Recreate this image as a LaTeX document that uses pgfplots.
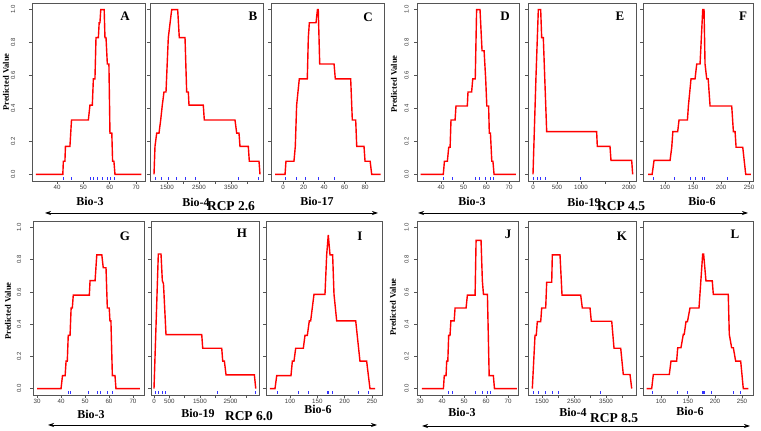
\documentclass[border=0pt]{standalone}
\usepackage{fontspec}
\setmainfont{Liberation Serif}
\newfontfamily\tickfont{Liberation Sans}
\usepackage{pgfplots}
\pgfplotsset{compat=1.18}
\usetikzlibrary{arrows.meta}

\definecolor{boxgray}{RGB}{85,85,85}
\definecolor{ticktext}{RGB}{60,60,60}

\pgfplotsset{
  panel/.style={
    scale only axis, anchor=south west,
    ymin=-0.04, ymax=1.04,
    ytick={0,0.2,0.4,0.6,0.8,1},
    yticklabels={},
    axis line style={boxgray, line width=0.9pt},
    tick pos=left, tick align=outside,
    major tick length=3pt,
    every tick/.style={boxgray, line width=0.6pt},
    xticklabel style={font=\tickfont\fontsize{6.2}{6.2}\selectfont, text=ticktext, inner sep=1pt},
    yticklabel style={font=\tickfont\fontsize{6}{6}\selectfont, text=ticktext, rotate=90, anchor=south, inner sep=1pt},
  },
  ylabs/.style={yticklabels={0.0,0.2,0.4,0.6,0.8,1.0}},
  curve/.style={red, line width=1.4pt},
  rug/.style={blue!80, only marks, mark=|, mark size=1.2pt, line width=0.5pt},
}

\tikzset{
  panlet/.style={font=\bfseries\fontsize{13}{13}\selectfont},
  varlab/.style={font=\bfseries\fontsize{12}{12}\selectfont},
  rcplab/.style={font=\bfseries\fontsize{13.5}{13.5}\selectfont},
  ylab/.style={font=\bfseries\fontsize{8.5}{8.5}\selectfont, rotate=90},
  span/.style={{Stealth[length=6pt,width=4pt]}-{Stealth[length=6pt,width=4pt]}, line width=0.7pt},
}

\begin{document}
\begin{tikzpicture}
\path[use as bounding box] (0pt,0pt) rectangle (761pt,431pt);

% ---------------- RCP 2.6 ----------------
\begin{axis}[panel, ylabs, yticklabel shift=12.5pt, at={(32pt,250pt)}, width=113pt, height=178pt,
  xmin=30.5, xmax=73.4, xtick={40,50,60,70}, xticklabels={40,50,60,70}]
\addplot[curve] coordinates {(32,0)(42.2,0)(42.4,0.08)(43,0.08)(43.2,0.17)(44.9,0.17)(45.5,0.33)(51.9,0.33)(52.5,0.42)(53.4,0.42)(53.8,0.58)(54.4,0.58)(54.8,0.83)(55.7,0.83)(56,0.92)(56.3,0.92)(56.6,1)(57.9,1)(58.2,0.83)(58.6,0.83)(59.1,0.67)(59.7,0.67)(60.1,0.25)(60.8,0.25)(61.1,0.08)(61.6,0.08)(62,0)(72,0)};
\addplot[rug] coordinates {(42.3,-0.025)(45.3,-0.025)(52.5,-0.025)(53.7,-0.025)(55.1,-0.025)(57.1,-0.025)(58.9,-0.025)(60.2,-0.025)(61.8,-0.025)};
\end{axis}

\begin{axis}[panel, at={(150pt,250pt)}, width=113pt, height=178pt,
  xmin=969, xmax=4500, xtick={1500,2000,2500,3000,3500,4000}, xticklabels={1500,,2500,,3500,}]
\addplot[curve] coordinates {(1094,0)(1125,0.17)(1178,0.25)(1250,0.25)(1303,0.33)(1353,0.42)(1406,0.5)(1469,0.5)(1541,0.83)(1647,1)(1834,1)(1884,0.83)(2063,0.83)(2115,0.5)(2166,0.5)(2188,0.42)(2634,0.42)(2666,0.33)(3625,0.33)(3678,0.25)(3750,0.25)(3781,0.17)(4041,0.17)(4072,0.08)(4375,0.08)(4406,0)};
\addplot[rug] coordinates {(1125,-0.025)(1334,-0.025)(1541,-0.025)(1803,-0.025)(2063,-0.025)(2375,-0.025)(3728,-0.025)(4353,-0.025)};
\end{axis}

\begin{axis}[panel, at={(271pt,250pt)}, width=113pt, height=178pt,
  xmin=-11.7, xmax=98.5, xtick={0,20,40,60,80}, xticklabels={0,20,40,60,80}]
\addplot[curve] coordinates {(-7.8,0)(2,0)(2.9,0.08)(10.7,0.08)(12,0.17)(13.3,0.42)(15.9,0.58)(23.7,0.58)(24.7,0.83)(25.7,0.92)(32.2,0.92)(33.6,1)(34.4,1)(35.8,0.67)(49.8,0.67)(51,0.58)(66,0.58)(67.6,0.33)(70.9,0.33)(71.9,0.17)(79,0.17)(80,0.08)(85,0.08)(86.5,0)(95.3,0)};
\addplot[rug] coordinates {(2,-0.025)(12.7,-0.025)(21.5,-0.025)(34,-0.025)(49.8,-0.025)};
\end{axis}

% ---------------- RCP 4.5 ----------------
\begin{axis}[panel, ylabs, yticklabel shift=4pt, at={(417pt,250pt)}, width=102pt, height=178pt,
  xmin=29.4, xmax=74.4, xtick={40,50,60,70}, xticklabels={40,50,60,70}]
\addplot[curve] coordinates {(31,0)(41,0)(41.5,0.08)(42.8,0.08)(43.4,0.165)(44,0.165)(44.4,0.33)(46.2,0.33)(46.6,0.415)(51.6,0.415)(51.9,0.5)(53.5,0.5)(54,0.58)(55.1,0.58)(55.7,1)(57.2,1)(58.1,0.75)(59,0.75)(59.7,0.58)(60.2,0.415)(61,0.415)(61.3,0.25)(61.8,0.25)(62.4,0.08)(62.9,0.08)(63.4,0)(73,0)};
\addplot[rug] coordinates {(41,-0.025)(45,-0.025)(55,-0.025)(56.8,-0.025)(59.4,-0.025)(61.6,-0.025)(62.9,-0.025)};
\end{axis}

\begin{axis}[panel, at={(528pt,250pt)}, width=108pt, height=178pt,
  xmin=-104, xmax=2146, xtick={0,500,1000,1500,2000}, xticklabels={0,500,1000,,2000}]
\addplot[curve] coordinates {(0,0)(62,0.59)(111,1)(160,1)(181,0.83)(215,0.83)(285,0.26)(1326,0.26)(1340,0.17)(1604,0.17)(1625,0.085)(2056,0.085)(2077,0)};
\addplot[rug] coordinates {(0,-0.025)(83,-0.025)(146,-0.025)(250,-0.025)(979,-0.025)};
\end{axis}

\begin{axis}[panel, at={(643pt,250pt)}, width=110pt, height=178pt,
  xmin=60.7, xmax=257, xtick={100,150,200,250}, xticklabels={100,150,200,250}]
\addplot[curve] coordinates {(70,0)(77,0)(80.4,0.085)(109,0.085)(112,0.165)(114,0.26)(122.6,0.26)(125,0.33)(140,0.33)(141.7,0.415)(146.4,0.58)(153.6,0.58)(156.6,0.67)(162.5,0.67)(167.3,1)(169.6,1)(171.4,0.67)(174.4,0.58)(177,0.58)(180.4,0.415)(219,0.415)(222,0.26)(225,0.26)(226.8,0.165)(238.7,0.165)(244,0)(253,0)};
\addplot[rug] coordinates {(78.6,-0.025)(116,-0.025)(145,-0.025)(154,-0.025)(166,-0.025)(170,-0.025)(211,-0.025)};
\end{axis}

% ---------------- RCP 6.0 ----------------
\begin{axis}[panel, ylabs, yticklabel shift=7.5pt, at={(33pt,36pt)}, width=111pt, height=174pt,
  xmin=28.3, xmax=74.6, xtick={30,40,50,60,70}, xticklabels={30,40,50,60,70}]
\addplot[curve] coordinates {(30,0)(40,0)(40.6,0.08)(41.7,0.08)(42.1,0.17)(42.6,0.17)(43,0.33)(43.75,0.33)(44.2,0.5)(44.7,0.5)(45.1,0.58)(51.8,0.58)(52.1,0.67)(54.2,0.67)(54.9,0.83)(57,0.83)(57.6,0.75)(58.75,0.75)(59.3,0.5)(60.1,0.5)(60.4,0.42)(60.8,0.42)(61.4,0.08)(62.5,0.08)(62.9,0)(72.9,0)};
\addplot[rug] coordinates {(43,-0.025)(43.75,-0.025)(51.25,-0.025)(55,-0.025)(56.25,-0.025)(59.2,-0.025)(61.25,-0.025)};
\end{axis}

\begin{axis}[panel, at={(151pt,36pt)}, width=108pt, height=174pt,
  xmin=-98, xmax=3431, xtick={0,500,1000,1500,2000,2500,3000}, xticklabels={0,500,,1500,,2500,}]
\addplot[curve] coordinates {(0,0)(141,0.835)(229,0.835)(272,0.67)(310,0.65)(392,0.335)(1560,0.335)(1592,0.25)(2213,0.25)(2246,0.17)(2300,0.17)(2354,0.085)(3280,0.085)(3325,0)};
\addplot[rug] coordinates {(33,-0.025)(131,-0.025)(262,-0.025)(360,-0.025)(2060,-0.025)(3300,-0.025)};
\end{axis}

\begin{axis}[panel, at={(266pt,36pt)}, width=116pt, height=174pt,
  xmin=56.1, xmax=268.3, xtick={100,150,200,250}, xticklabels={100,150,200,250}]
\addplot[curve] coordinates {(63,0)(72.6,0)(75.7,0.08)(101.8,0.08)(104.3,0.17)(107.3,0.17)(110.4,0.25)(124.4,0.25)(127.4,0.33)(131.7,0.33)(135.3,0.42)(137.8,0.42)(143.9,0.585)(164,0.585)(167.1,0.83)(170,0.954)(173.2,0.83)(178,0.83)(180.5,0.585)(185.4,0.42)(220.2,0.42)(223,0.33)(228,0.17)(240.2,0.17)(246.3,0)(255.5,0)};
\addplot[rug] coordinates {(76,-0.025)(114.6,-0.025)(133,-0.025)(167.7,-0.025)(169.5,-0.025)(176.8,-0.025)(224,-0.025)(242.7,-0.025)};
\end{axis}

% ---------------- RCP 8.5 ----------------
\begin{axis}[panel, ylabs, yticklabel shift=4pt, at={(417pt,36pt)}, width=101pt, height=174pt,
  xmin=28.6, xmax=74.5, xtick={30,40,50,60,70}, xticklabels={30,40,50,60,70}]
\addplot[curve] coordinates {(30.8,0)(40.6,0)(41,0.08)(41.8,0.08)(42.1,0.17)(42.6,0.17)(43,0.33)(43.6,0.33)(44,0.42)(45.5,0.42)(45.9,0.5)(50.9,0.5)(51.5,0.58)(55,0.58)(55.45,0.92)(57.7,0.92)(58.3,0.67)(58.8,0.585)(60.6,0.585)(61.4,0.08)(63.3,0.08)(63.8,0)(74,0)};
\addplot[rug] coordinates {(42.7,-0.025)(44.5,-0.025)(55,-0.025)(58.2,-0.025)(60.5,-0.025)(61.8,-0.025)};
\end{axis}

\begin{axis}[panel, at={(528pt,36pt)}, width=108pt, height=174pt,
  xmin=1062, xmax=4437, xtick={1500,2000,2500,3000,3500,4000}, xticklabels={1500,,2500,,3500,}]
\addplot[curve] coordinates {(1197,0)(1281,0.33)(1320,0.33)(1353,0.415)(1459,0.415)(1490,0.5)(1615,0.5)(1646,0.66)(1803,0.66)(1822,0.83)(2062,0.83)(2125,0.58)(2709,0.58)(2759,0.5)(3000,0.5)(3040,0.418)(3678,0.418)(3750,0.25)(3959,0.25)(4040,0.087)(4250,0.087)(4303,0)};
\addplot[rug] coordinates {(1219,-0.025)(1375,-0.025)(1594,-0.025)(1812,-0.025)(2000,-0.025)(3312,-0.025)};
\end{axis}

\begin{axis}[panel, at={(643pt,36pt)}, width=110pt, height=174pt,
  xmin=66.7, xmax=270.4, xtick={100,150,200,250}, xticklabels={100,150,200,250}]
\addplot[curve] coordinates {(73.5,0)(82.8,0)(85.8,0.087)(115.4,0.087)(118.5,0.17)(129,0.17)(131,0.253)(137,0.253)(141.3,0.336)(143,0.336)(146.3,0.415)(149,0.415)(153.7,0.5)(170.4,0.5)(177.2,0.834)(179,0.834)(183.3,0.668)(195,0.668)(196.9,0.585)(224.6,0.585)(226.5,0.336)(230.9,0.253)(234,0.253)(238.3,0.17)(247.6,0.17)(252.4,0)(261.7,0)};
\addplot[rug] coordinates {(83,-0.025)(131,-0.025)(148,-0.025)(176,-0.025)(178,-0.025)(181,-0.025)(194,-0.025)(233,-0.025)(246,-0.025)};
\end{axis}

% panel letters
\node[panlet] at (125pt,415pt) {A};
\node[panlet] at (253pt,415pt) {B};
\node[panlet] at (368pt,414pt) {C};
\node[panlet] at (505pt,415pt) {D};
\node[panlet] at (620pt,415pt) {E};
\node[panlet] at (743pt,415pt) {F};
\node[panlet] at (125pt,195pt) {G};
\node[panlet] at (242pt,198pt) {H};
\node[panlet] at (360pt,195pt) {I};
\node[panlet] at (508pt,197pt) {J};
\node[panlet] at (622pt,195pt) {K};
\node[panlet] at (735pt,197pt) {L};

% variable names
\node[varlab] at (90pt,230pt) {Bio-3};
\node[varlab] at (196pt,229pt) {Bio-4};
\node[varlab] at (317pt,230pt) {Bio-17};
\node[varlab] at (472pt,230pt) {Bio-3};
\node[varlab] at (584pt,229pt) {Bio-19};
\node[varlab] at (702pt,230pt) {Bio-6};
\node[varlab] at (91pt,17pt) {Bio-3};
\node[varlab] at (198pt,18pt) {Bio-19};
\node[varlab] at (318pt,22pt) {Bio-6};
\node[varlab] at (462pt,19pt) {Bio-3};
\node[varlab] at (573pt,19pt) {Bio-4};
\node[varlab] at (690pt,20pt) {Bio-6};

% y axis titles
\node[ylab] at (6pt,349pt) {Predicted Value};
\node[ylab] at (394pt,347pt) {Predicted Value};
\node[ylab] at (8pt,120pt) {Predicted Value};
\node[ylab] at (393pt,124pt) {Predicted Value};

% scenario labels and spans
\node[rcplab] at (231pt,225pt) {RCP 2.6};
\node[rcplab] at (621pt,225pt) {RCP 4.5};
\node[rcplab] at (249pt,15pt) {RCP 6.0};
\node[rcplab] at (614pt,13pt) {RCP 8.5};
\draw[span] (45pt,218pt) -- (378pt,218pt);
\draw[span] (418pt,218pt) -- (748pt,218pt);
\draw[span] (48pt,6pt) -- (377pt,6pt);
\draw[span] (422pt,5pt) -- (750pt,5pt);
\end{tikzpicture}
\end{document}
